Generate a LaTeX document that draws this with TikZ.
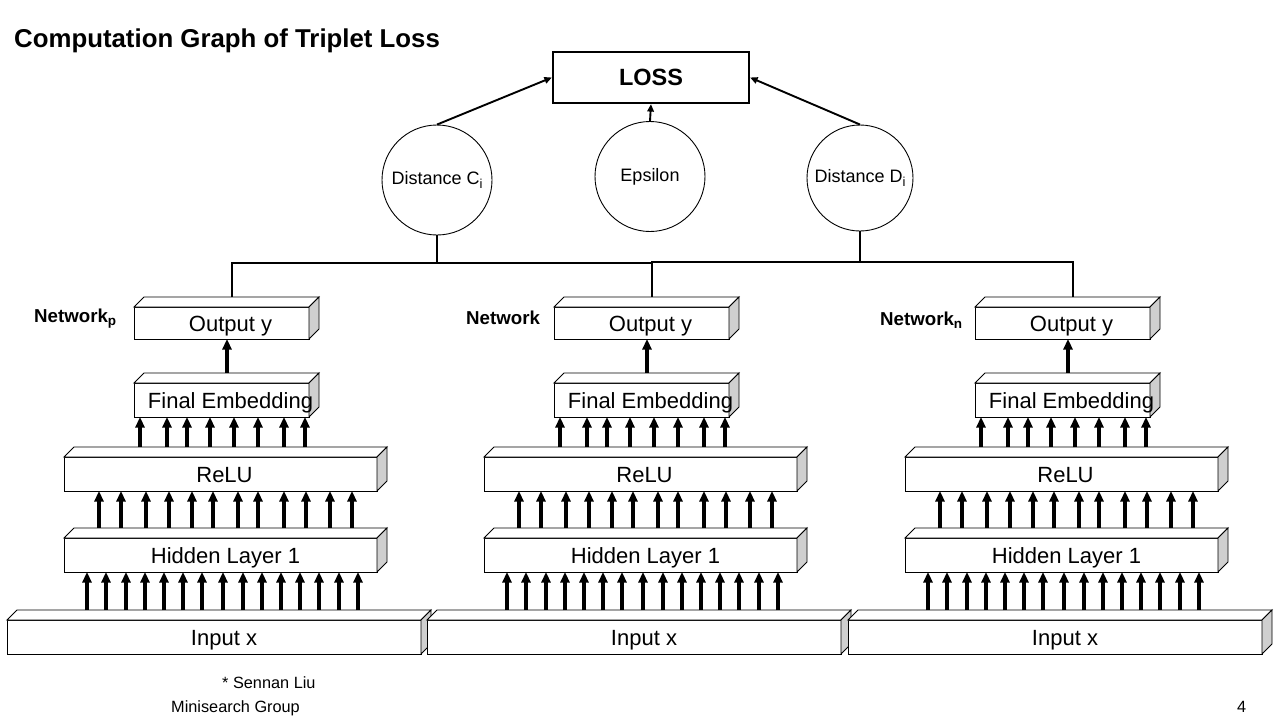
\documentclass[tikz,border=0pt]{standalone}
\usepackage{fontspec}
\usepackage{graphicx}
\setmainfont{Liberation Sans}
\usetikzlibrary{arrows.meta,calc}
\tikzset{
  face/.style={draw=black, line width=0.9pt, fill=white},
  sideface/.style={draw=black, line width=0.9pt, fill=black!19},
  uparr/.style={-{Triangle[length=10.5pt,width=9pt]}, line width=3.1pt},
  lossarr/.style={-{Triangle[length=7.5pt,width=6.5pt]}, line width=1.9pt},
  wire/.style={line width=2pt},
  lyr/.style={font=\fontsize{22}{24}\selectfont, inner sep=0pt, anchor=base},
  circ/.style={circle, draw, line width=0.9pt, inner sep=0pt, font=\fontsize{18}{20}\selectfont},
  netlbl/.style={font=\bfseries\fontsize{18.7}{20}\selectfont, inner sep=0pt, anchor=base west},
  foot/.style={font=\fontsize{16.3}{18}\selectfont, inner sep=0pt, anchor=base west},
}
\newcommand\sbsc[1]{\raisebox{-0.17em}{\scalebox{0.72}{#1}}}
\newcommand\cub[7]{%
  \node[face, inner sep=0pt, outer sep=0pt, minimum width={((#4)-(#2))*1pt}, minimum height={((#5)-(#3))*1pt}] (#1) at ({((#2)+(#4))/2},{((#3)+(#5))/2}) {};
  \draw[face] (#1.north west) -- ++(10,-10) -- ++({(#4)-(#2)},0) -- (#1.north east) -- cycle;
  \draw[sideface] (#1.north east) -- ++(10,-10) -- ++(0,{(#5)-(#3)}) -- (#1.south east) -- cycle;
  \coordinate (#1bt) at ([shift={(10,-10)}]#1.north west);
  \coordinate (#1bc) at ([shift={(10,-10)}]#1.north);
  \node[lyr] (#1t) at ([xshift=#7pt, yshift=-8pt]#1.center) {#6};
}
\begin{document}
\begin{tikzpicture}[x=1pt,y=-1pt]
\useasboundingbox (0,0) rectangle (1277,715);
\fill[white] (0,0) rectangle (1277,715);

\node[font=\bfseries\fontsize{25.8}{28}\selectfont, anchor=base west, inner sep=0pt] (title) at (14,47) {Computation Graph of Triplet Loss};

\node[draw, line width=2.2pt, minimum width=196pt, minimum height=51pt, inner sep=0pt, font=\bfseries\fontsize{23.5}{26}\selectfont] (loss) at (651,77.5) {LOSS};

\node[circ, minimum size=110pt] (ci) at (437,180) {Distance C\sbsc{i}};
\node[circ, minimum size=110pt] (eps) at (650,176.5) {Epsilon};
\node[circ, minimum size=106pt] (di) at (860,178) {Distance D\sbsc{i}};

\draw[lossarr] (ci.north) -- (loss.west);
\draw[lossarr] (eps.north) -- (loss.south);
\draw[lossarr] (di.north) -- (loss.east);

\foreach \o/\n in {0/p,420/m,841/n}{
  \cub{inp\n}{\o+7}{620}{\o+421}{654}{Input x}{10}
  \cub{hid\n}{\o+64}{538}{\o+377}{572}{Hidden Layer 1}{5}
  \cub{relu\n}{\o+64}{457}{\o+377}{491}{ReLU}{4}
  \cub{fe\n}{\o+134}{383}{\o+309}{417}{Final Embedding}{9}
  \cub{out\n}{\o+134}{307}{\o+309}{339}{Output y}{9}
  \foreach \X in {87,106,126,145,164,183,202,223,243,262,281,300,319,339,358}
    \draw[uparr] ({\X+\o},0 |- inp\n bt) -- ({\X+\o},0 |- hid\n.south);
  \foreach \X in {99,121,146,169,192,213,238,258,284,306,330,352}
    \draw[uparr] ({\X+\o},0 |- hid\n bt) -- ({\X+\o},0 |- relu\n.south);
  \foreach \X in {140,167,187,210,234,258,284,305}
    \draw[uparr] ({\X+\o},0 |- relu\n bt) -- ({\X+\o},0 |- fe\n.south);
  \draw[uparr] ({227+\o},0 |- fe\n bt) -- ({227+\o},0 |- out\n.south);
}

\coordinate (busL) at (437,263);
\coordinate (busR) at (860,262);
\draw[wire] (ci.south) -- (busL);
\draw[wire] (outpbc) |- (outmbc |- busL);
\draw[wire] (di.south) -- (busR);
\draw[wire] (outnbc) |- (outmbc |- busR) -- (outmbc);

\node[netlbl] (netp) at (34,322) {Network\sbsc{p}};
\node[netlbl] (netm) at (466,324) {Network};
\node[netlbl] (netn) at (880,325) {Network\sbsc{n}};

\node[foot] (auth) at (222,688) {* Sennan Liu};
\node[foot] (grp) at (171,712) {Minisearch Group};
\node[foot] (page) at (1237,712) {4};
\end{tikzpicture}
\end{document}
